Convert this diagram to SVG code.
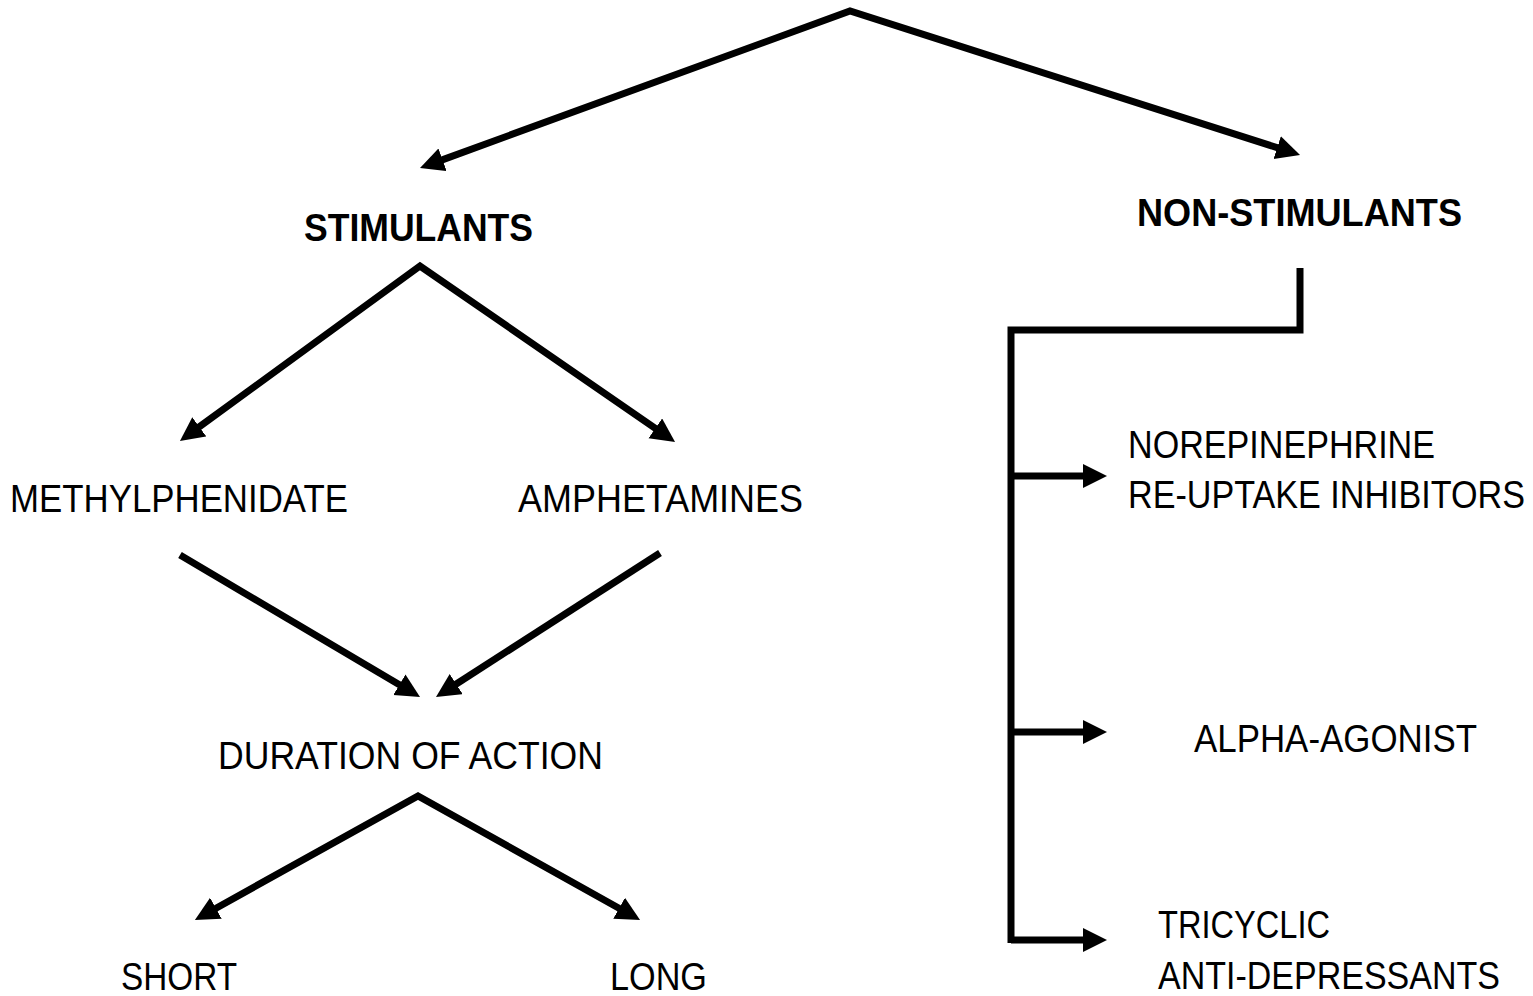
<svg xmlns="http://www.w3.org/2000/svg" width="1533" height="996" viewBox="0 0 1533 996">
<style>
.t{font-family:"Liberation Sans",Arial,sans-serif;font-size:38px;fill:#000;}
.b{font-weight:bold;}
.c{fill:none;stroke:#000;stroke-width:7;stroke-linejoin:miter;}
</style>
<defs>
<marker id="ah" markerUnits="userSpaceOnUse" markerWidth="26" markerHeight="26" refX="4" refY="12" orient="auto-start-reverse">
<path d="M0,0 L24,12 L0,24 Z" fill="#000"/>
</marker>
</defs>
<rect width="1533" height="996" fill="#fff"/>
<g id="connectors">
<path class="c" d="M438.8,161.1 L850,11 L1281,148.9" marker-start="url(#ah)" marker-end="url(#ah)"/>
<path class="c" d="M196.1,429.2 L420,266 L658.6,430.6" marker-start="url(#ah)" marker-end="url(#ah)"/>
<path class="c" d="M180,555 L402.8,686.8" marker-end="url(#ah)"/>
<path class="c" d="M660,553 L452.8,686.2" marker-end="url(#ah)"/>
<path class="c" d="M212.4,910.2 L418,796 L622.6,910.2" marker-start="url(#ah)" marker-end="url(#ah)"/>
<path class="c" d="M1300,268 V330 H1011 V943"/>
<path class="c" d="M1011,476 H1087" marker-end="url(#ah)"/>
<path class="c" d="M1011,732 H1087" marker-end="url(#ah)"/>
<path class="c" d="M1011,940 H1087" marker-end="url(#ah)"/>
</g>
<g id="stimulants"><text class="t b" x="304" y="241" textLength="229" lengthAdjust="spacingAndGlyphs">STIMULANTS</text></g>
<g id="non-stimulants"><text class="t b" x="1137" y="226" textLength="325" lengthAdjust="spacingAndGlyphs">NON-STIMULANTS</text></g>
<g id="methylphenidate"><text class="t" x="10" y="512" textLength="338" lengthAdjust="spacingAndGlyphs">METHYLPHENIDATE</text></g>
<g id="amphetamines"><text class="t" x="518" y="512" textLength="285" lengthAdjust="spacingAndGlyphs">AMPHETAMINES</text></g>
<g id="duration"><text class="t" x="218" y="769" textLength="385" lengthAdjust="spacingAndGlyphs">DURATION OF ACTION</text></g>
<g id="short"><text class="t" x="121" y="990" textLength="116" lengthAdjust="spacingAndGlyphs">SHORT</text></g>
<g id="long"><text class="t" x="610" y="990" textLength="97" lengthAdjust="spacingAndGlyphs">LONG</text></g>
<g id="nri">
<text class="t" x="1128" y="458" textLength="307" lengthAdjust="spacingAndGlyphs">NOREPINEPHRINE</text>
<text class="t" x="1128" y="508" textLength="397" lengthAdjust="spacingAndGlyphs">RE-UPTAKE INHIBITORS</text>
</g>
<g id="alpha"><text class="t" x="1194" y="752" textLength="283" lengthAdjust="spacingAndGlyphs">ALPHA-AGONIST</text></g>
<g id="tca">
<text class="t" x="1158" y="938" textLength="172" lengthAdjust="spacingAndGlyphs">TRICYCLIC</text>
<text class="t" x="1158" y="989" textLength="342" lengthAdjust="spacingAndGlyphs">ANTI-DEPRESSANTS</text>
</g>
</svg>
